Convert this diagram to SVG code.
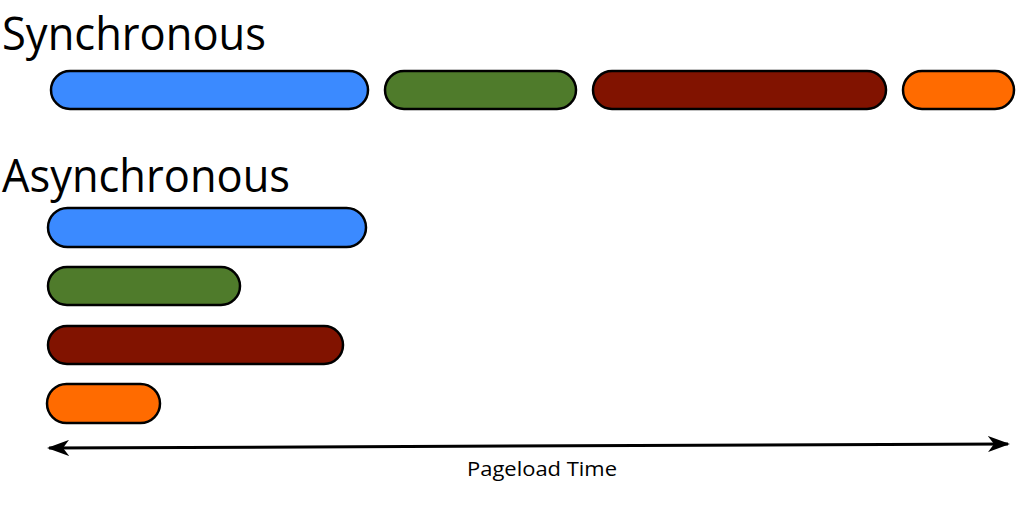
<svg xmlns="http://www.w3.org/2000/svg" width="1024" height="505" viewBox="0 0 1024 505">
<style>
.bar{stroke:#000;stroke-width:2.5}
.blue{fill:#3b8aff}.green{fill:#4f7b2b}.red{fill:#811300}.orange{fill:#ff6b00}
.title{font-family:"Open Sans","Liberation Sans",sans-serif;font-size:46px;fill:#000}
.label{font-family:"Open Sans","Liberation Sans",sans-serif;font-size:20px;fill:#000}
</style>
<defs>
<marker id="ah" viewBox="0 0 22 16" refX="20" refY="8" markerWidth="22" markerHeight="16" markerUnits="userSpaceOnUse" orient="auto-start-reverse">
<path d="M0,0 L22,8 L0,16 L6,8 Z" fill="#000"/>
</marker>
</defs>
<rect width="1024" height="505" fill="#fff"/>
<g id="sync-title"><text class="title" x="2" y="50" textLength="264" lengthAdjust="spacingAndGlyphs">Synchronous</text></g>
<g id="sync-blue"><rect class="bar blue" x="51" y="71" width="317" height="38" rx="19"/></g>
<g id="sync-green"><rect class="bar green" x="385" y="71" width="191" height="38" rx="19"/></g>
<g id="sync-red"><rect class="bar red" x="593" y="71" width="293" height="38" rx="19"/></g>
<g id="sync-orange"><rect class="bar orange" x="903" y="71" width="111" height="38" rx="19"/></g>
<g id="async-title"><text class="title" x="2" y="192" textLength="288" lengthAdjust="spacingAndGlyphs">Asynchronous</text></g>
<g id="async-blue"><rect class="bar blue" x="48" y="208" width="318" height="39" rx="19.5"/></g>
<g id="async-green"><rect class="bar green" x="48" y="267" width="192" height="38" rx="19"/></g>
<g id="async-red"><rect class="bar red" x="48" y="326" width="295" height="38" rx="19"/></g>
<g id="async-orange"><rect class="bar orange" x="47" y="384" width="113" height="39" rx="19.5"/></g>
<g id="connectors">
<line x1="49" y1="448" x2="1008" y2="444" stroke="#000" stroke-width="3" marker-start="url(#ah)" marker-end="url(#ah)"/>
</g>
<g id="pageload-label"><text class="label" x="467" y="476" textLength="150" lengthAdjust="spacingAndGlyphs">Pageload Time</text></g>
</svg>
